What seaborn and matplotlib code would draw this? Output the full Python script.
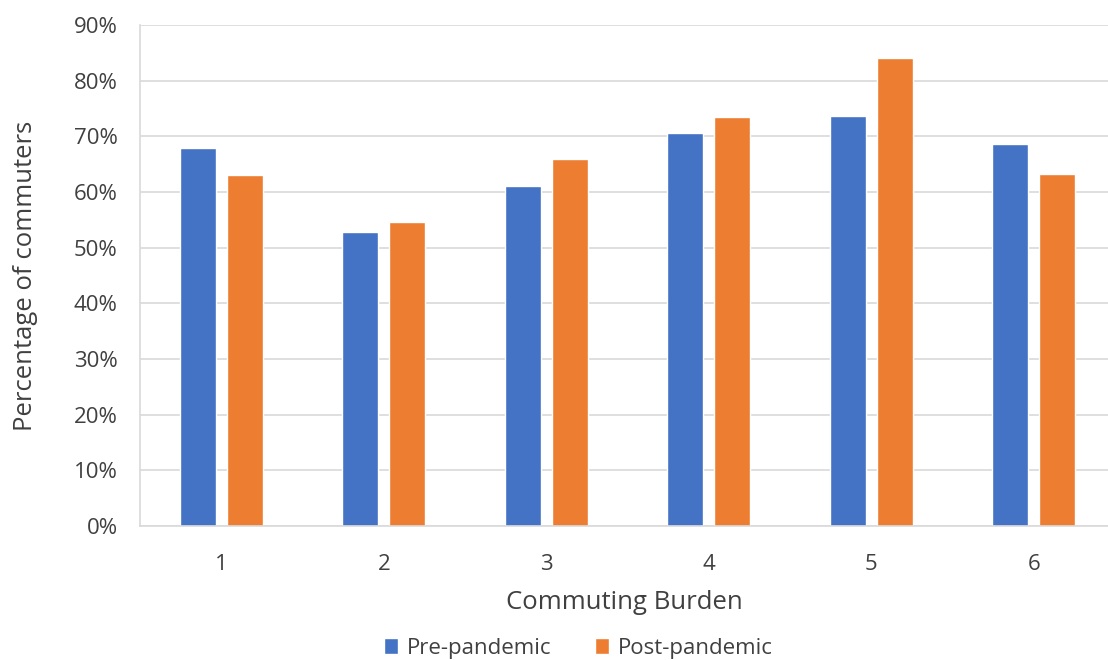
import pandas as pd
import matplotlib.pyplot as plt
import seaborn as sns
from matplotlib.ticker import PercentFormatter

# Data
burden = ['1', '2', '3', '4', '5', '6']
pre_pandemic = [67.9, 52.8, 61.0, 70.7, 73.7, 68.7]
post_pandemic = [63.1, 54.7, 66.0, 73.4, 84.1, 63.2]

df = pd.DataFrame({
    'Commuting Burden': burden * 2,
    'value': pre_pandemic + post_pandemic,
    'period': ['Pre-pandemic'] * len(burden) + ['Post-pandemic'] * len(burden),
})

sns.set_theme(style="white")
plt.rcParams['font.family'] = ['Open Sans', 'DejaVu Sans']

fig = plt.figure(figsize=(11.08, 6.6), dpi=100)
ax = fig.add_axes([0.1264, 0.203, 0.874, 0.759])

sns.barplot(data=df, x='Commuting Burden', y='value', hue='period',
            palette=['#4472C4', '#ED7D31'], width=0.58, gap=0.24,
            saturation=1, ax=ax)

ax.set_ylim(0, 90)
ax.set_xlim(-0.5, 5.46)
ax.set_yticks(range(0, 91, 10))
ax.yaxis.set_major_formatter(PercentFormatter(decimals=0))
ax.yaxis.grid(True, color='#D9D9D9', linewidth=1.2)
ax.set_axisbelow(True)

for side in ['top', 'right']:
    ax.spines[side].set_visible(False)
for side in ['left', 'bottom']:
    ax.spines[side].set_color('#D9D9D9')
    ax.spines[side].set_linewidth(1.2)

ax.tick_params(axis='x', length=0, pad=20, labelsize=16, labelcolor='#404040')
ax.tick_params(axis='y', length=0, pad=16, labelsize=16, labelcolor='#404040')

ax.set_xlabel('Commuting Burden', fontsize=18.5, color='#404040', labelpad=11)
ax.set_ylabel('Percentage of commuters', fontsize=18.5, color='#404040', labelpad=10)
ax.yaxis.set_label_coords(-0.105, 0.5)

ax.legend_.remove()
handles, labels = ax.get_legend_handles_labels()
fig.legend(handles, labels, loc='center', bbox_to_anchor=(0.522, 0.018),
           ncol=2, frameon=False, fontsize=16, handlelength=0.6,
           handleheight=0.7, handletextpad=0.4, columnspacing=2.0,
           labelcolor='#404040')

fig.savefig('out.png', dpi=100)
